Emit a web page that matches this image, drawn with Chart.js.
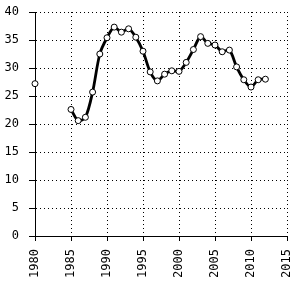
<!DOCTYPE html>
<html>
<head>
<meta charset="utf-8">
<script src="https://cdn.jsdelivr.net/npm/chart.js@4/dist/chart.umd.min.js"></script>
<style>
  html, body { margin: 0; padding: 0; background: #fff; }
  #wrap { width: 299px; height: 281px; }
</style>
</head>
<body>
<div id="wrap"><canvas id="chart"></canvas></div>
<script>
// years and values (null = no data)
const years = [1980, 1981, 1982, 1983, 1984, 1985, 1986, 1987, 1988, 1989,
               1990, 1991, 1992, 1993, 1994, 1995, 1996, 1997, 1998, 1999,
               2000, 2001, 2002, 2003, 2004, 2005, 2006, 2007, 2008, 2009,
               2010, 2011, 2012];
const values = [27.2, null, null, null, null, 22.6, 20.6, 21.2, 25.7, 32.5,
                35.4, 37.3, 36.4, 37.0, 35.5, 33.0, 29.3, 27.7, 28.9, 29.5,
                29.4, 31.0, 33.3, 35.6, 34.4, 34.1, 32.9, 33.2, 30.2, 27.9,
                26.6, 27.9, 28.0];
const xTicks = [1980, 1985, 1990, 1995, 2000, 2005, 2010, 2015];
const yTicks = [0, 5, 10, 15, 20, 25, 30, 35, 40];

const points = years.map((yr, i) => ({ x: yr, y: values[i] }));

const tickFont = { family: 'DejaVu Sans Mono', size: 12 };

function grid(len) {
    return {
        color: '#000',
        lineWidth: 1,
        tickColor: '#000',
        tickLength: len,
        tickBorderDash: [],
        drawTicks: true
    };
}

new Chart(document.getElementById('chart').getContext('2d'), {
    type: 'line',
    data: {
        datasets: [{
            data: points,
            borderColor: '#000',
            borderWidth: 2.8,
            tension: 0.3,
            spanGaps: false,
            clip: false,
            pointRadius: 3,
            pointBorderWidth: 1,
            pointBorderColor: '#000',
            pointBackgroundColor: '#fff'
        }]
    },
    options: {
        responsive: true,
        maintainAspectRatio: false,
        animation: false,
        layout: { padding: { top: 0, right: 0, left: 5, bottom: 3 } },
        plugins: { legend: { display: false }, tooltip: { enabled: false } },
        scales: {
            x: {
                type: 'linear',
                min: xTicks[0],
                max: xTicks[xTicks.length - 1],
                afterBuildTicks: axis => { axis.ticks = xTicks.map(v => ({ value: v })); },
                afterFit: axis => { axis.paddingRight = 12; axis.height = 42; },
                grid: grid(5),
                border: { color: '#000', width: 1, dash: [1, 3] },
                ticks: {
                    color: '#000',
                    font: tickFont,
                    minRotation: 90,
                    maxRotation: 90,
                    padding: 8,
                    callback: v => String(v)
                }
            },
            y: {
                min: yTicks[0],
                max: yTicks[yTicks.length - 1],
                afterBuildTicks: axis => { axis.ticks = yTicks.map(v => ({ value: v })); },
                afterFit: axis => { axis.paddingTop = 12; axis.paddingBottom = 6; axis.width = 30; },
                grid: grid(6),
                border: { color: '#000', width: 1, dash: [1, 3] },
                ticks: {
                    color: '#000',
                    font: tickFont,
                    padding: 10
                }
            }
        }
    }
});
</script>
</body>
</html>
